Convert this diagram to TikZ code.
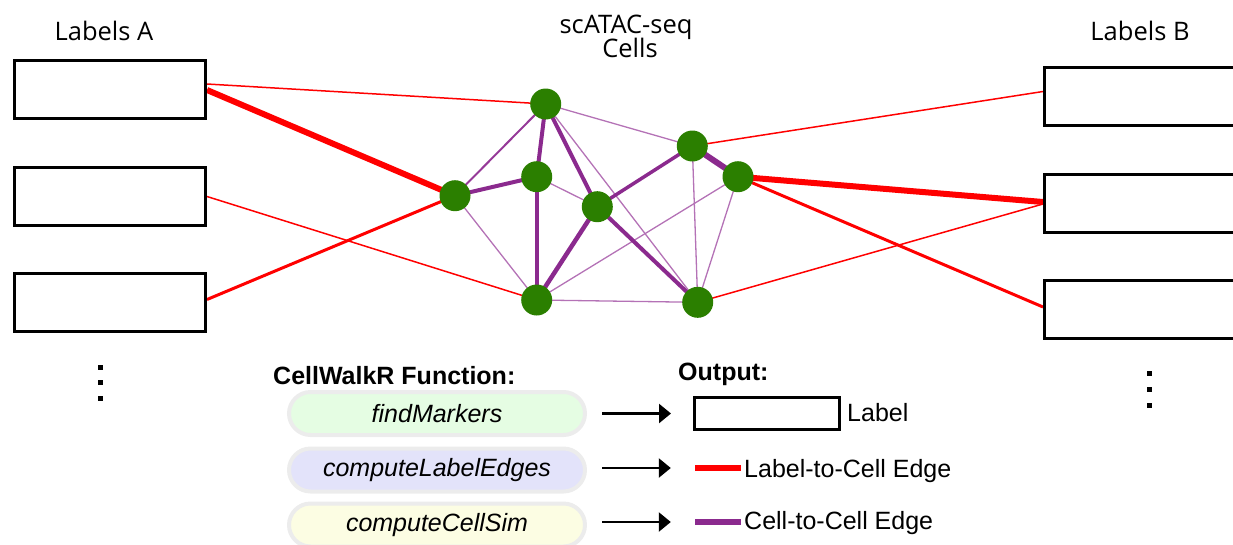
\documentclass[tikz,border=0pt]{standalone}
\usepackage{fontspec}
\newfontfamily\hum{Open Sans}
\newfontfamily\hel{Liberation Sans}
\usetikzlibrary{arrows.meta,backgrounds,shapes.misc}

\definecolor{edgered}{HTML}{FF0000}
\definecolor{simdark}{HTML}{8B2A8E}
\definecolor{simmid}{HTML}{963A98}
\definecolor{simlight}{HTML}{B472B6}
\definecolor{cellgreen}{HTML}{2B7F00}
\definecolor{pillgreen}{HTML}{E5FDE3}
\definecolor{pillblue}{HTML}{E3E3FA}
\definecolor{pillyellow}{HTML}{FCFDE3}
\definecolor{pillrim}{HTML}{ECECEC}

\tikzset{
  labelbox/.style={draw=black, line width=3pt, fill=white, inner sep=0pt,
    minimum width=191pt, minimum height=58pt},
  cell/.style={circle, fill=cellgreen, inner sep=0pt, minimum size=31pt},
  heading/.style={font=\hum\fontsize{25.5}{30}\selectfont, inner sep=0pt},
  legend/.style={font=\hel\fontsize{25}{30}\selectfont, inner sep=0pt},
  legendbold/.style={font=\hel\bfseries\fontsize{25}{30}\selectfont, inner sep=0pt},
  pill/.style={rounded rectangle, draw=pillrim, line width=4pt, inner sep=0pt,
    minimum width=296pt, minimum height=43pt,
    font=\hel\itshape\fontsize{25}{30}\selectfont},
  lc thin/.style={edgered, line width=1.5pt},
  lc mid/.style={edgered, line width=3pt},
  lc thick/.style={edgered, line width=6pt},
  cc thin/.style={simlight, line width=1.3pt},
  cc mid/.style={simmid, line width=2pt},
  cc thick/.style={simdark, line width=4pt},
  cc heavy/.style={simdark, line width=6pt},
  maps/.style={-{Triangle[length=12pt,width=19pt]}, line width=2.5pt, black},
  dot/.style={fill=black}
}

\begin{document}
\begin{tikzpicture}[x=1pt, y=-1pt]
\useasboundingbox (0,0) rectangle (1233,544);
\clip (0,0) rectangle (1233,544);

% headings
\node[heading, anchor=base] (hA) at (104,40) {Labels A};
\node[heading, anchor=base] (hB) at (1140,40) {Labels B};
\node[heading, anchor=base] (hT1) at (626,33) {scATAC-seq};
\node[heading, anchor=base] (hT2) at (630,57) {Cells};

% label boxes
\node[labelbox] (A1) at (110,89) {};
\node[labelbox] (A2) at (110,196.5) {};
\node[labelbox] (A3) at (110,302.5) {};
\node[labelbox, minimum width=196pt] (B1) at (1142.5,96.5) {};
\node[labelbox, minimum width=196pt] (B2) at (1142.5,203) {};
\node[labelbox, minimum width=196pt] (B3) at (1142.5,309) {};

% continuation dots
\foreach \y in {367,382,398} \fill[dot] (97.5,\y-2.5) rectangle (102.5,\y+2.5);
\foreach \y in {373,389,405} \fill[dot] (1146.5,\y-2.5) rectangle (1151.5,\y+2.5);

% cells
\node[cell] (c1) at (545.7,104) {};
\node[cell] (c2) at (455,195.7) {};
\node[cell] (c3) at (536.7,176.7) {};
\node[cell] (c4) at (597.3,206.7) {};
\node[cell] (c5) at (692.3,146) {};
\node[cell] (c6) at (738,176.7) {};
\node[cell] (c7) at (536.7,300) {};
\node[cell] (c8) at (697.7,302.3) {};

\begin{scope}[on background layer]
  % label-to-cell edges
  \draw[lc thin]  ([yshift=5pt]A1.east) -- (c1.center);
  \draw[lc thick] ([yshift=-1pt]A1.east) -- (c2.center);
  \draw[lc thin]  (A2.east) -- (c7.center);
  \draw[lc mid]   ([yshift=3pt]A3.east) -- (c2.center);
  \draw[lc thin]  (c5.center) -- ([yshift=5pt]B1.west);
  \draw[lc thick] (c6.center) -- ([yshift=1pt]B2.west);
  \draw[lc thin]  (c8.center) -- ([yshift=-1pt]B2.west);
  \draw[lc mid]   (c6.center) -- ([yshift=2pt]B3.west);
  % cell-to-cell edges
  \draw[cc thin]  (c1.center) -- (c5.center);
  \draw[cc thin]  (c1.center) -- (c8.center);
  \draw[cc thin]  (c2.center) -- (c7.center);
  \draw[cc thin]  (c3.center) -- (c4.center);
  \draw[cc thin]  (c7.center) -- (c6.center);
  \draw[cc thin]  (c7.center) -- (c8.center);
  \draw[cc thin]  (c5.center) -- (c8.center);
  \draw[cc thin]  (c6.center) -- (c8.center);
  \draw[cc mid]   (c1.center) -- (c2.center);
  \draw[cc thick] (c1.center) -- (c3.center);
  \draw[cc thick] (c1.center) -- (c4.center);
  \draw[cc thick] (c2.center) -- (c3.center);
  \draw[cc thick] (c3.center) -- (c7.center);
  \draw[cc thick, line width=4.5pt] (c4.center) -- (c7.center);
  \draw[cc thick] (c4.center) -- (c8.center);
  \draw[cc thick, line width=3.5pt] (c4.center) -- (c5.center);
  \draw[cc heavy] (c5.center) -- (c6.center);
\end{scope}

% legend: functions
\node[legendbold, anchor=base west] (fnHead) at (273,384) {CellWalkR Function:};
\node[pill, fill=pillgreen]  (p1) at (437,413.5) {findMarkers};
\node[pill, fill=pillblue]   (p2) at (437,470) {computeLabelEdges};
\node[pill, fill=pillyellow] (p3) at (437,525) {computeCellSim};

% legend: outputs
\node[legendbold, anchor=base west] (outHead) at (678,380) {Output:};
\node[draw=black, line width=3pt, inner sep=0pt, minimum width=145pt,
      minimum height=32pt] (o1) at (767,413.5) {};
\node[legend, anchor=base west] (o1t) at (847,421) {Label};
\node[fill=edgered, inner sep=0pt, minimum width=46pt, minimum height=6pt] (o2) at (718,468) {};
\node[legend, anchor=base west] (o2t) at (744,477) {Label-to-Cell Edge};
\node[fill=simdark, inner sep=0pt, minimum width=46pt, minimum height=6pt] (o3) at (718,522) {};
\node[legend, anchor=base west] (o3t) at (744,529) {Cell-to-Cell Edge};

% function-to-output arrows
\draw[maps, shorten <=15pt, shorten >=22pt] (p1.east) -- (o1.west);
\draw[maps, shorten <=15pt, shorten >=24pt] (p2.east |- o2.west) -- (o2.west);
\draw[maps, shorten <=15pt, shorten >=24pt] (p3.east |- o3.west) -- (o3.west);
\end{tikzpicture}
\end{document}
